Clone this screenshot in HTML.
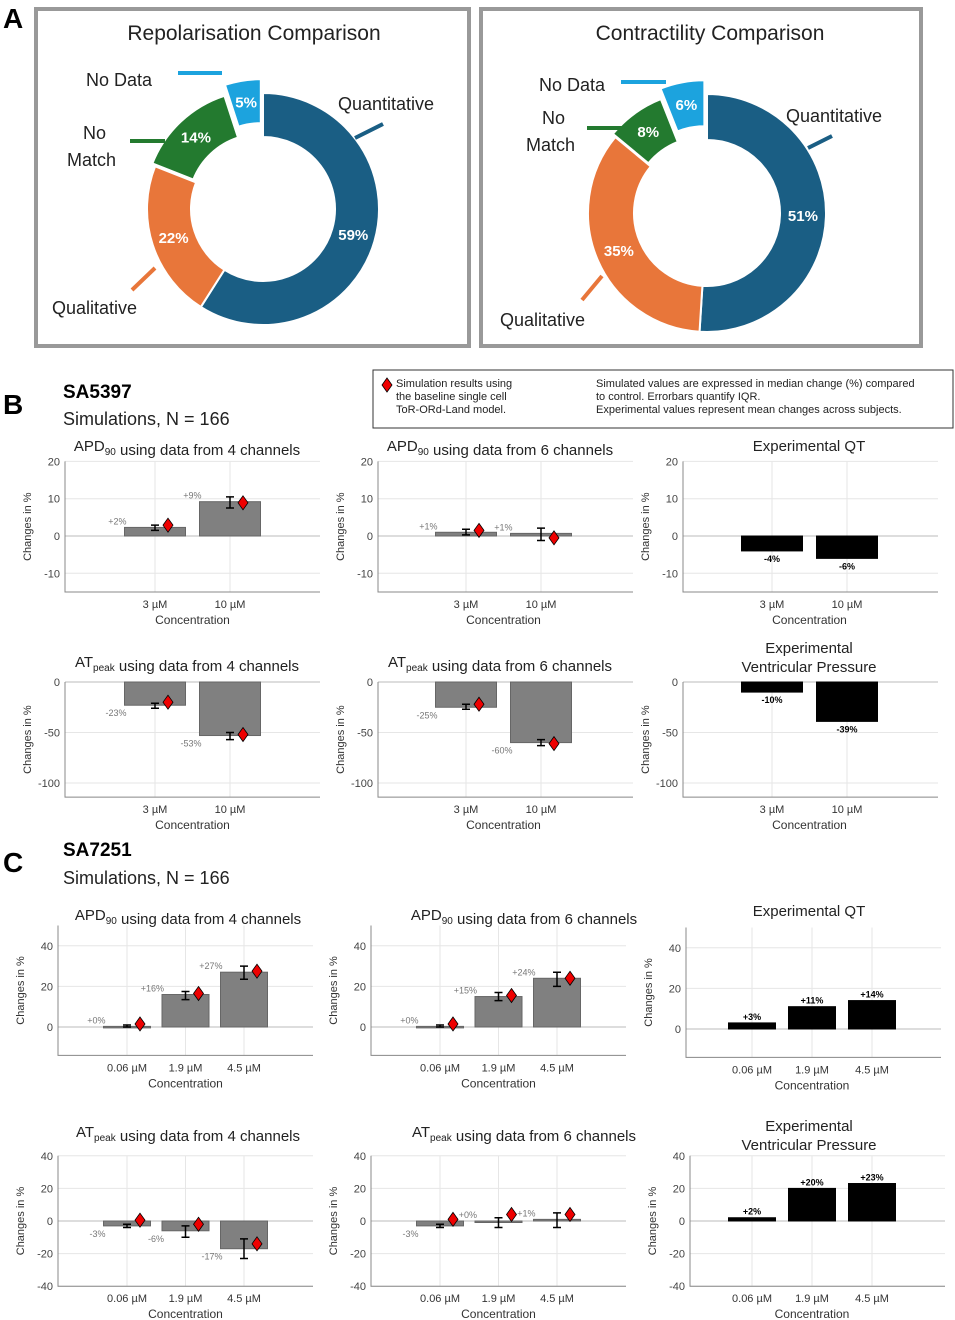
<!DOCTYPE html>
<html><head><meta charset="utf-8"><style>
body{margin:0;background:#fff}
svg{display:block;font-family:"Liberation Sans",Arial,sans-serif}
</style></head><body>
<svg id="fig" width="955" height="1320" viewBox="0 0 955 1320">
<text x="3" y="28" font-size="28" font-weight="bold">A</text>
<text x="3" y="414" font-size="28" font-weight="bold">B</text>
<text x="3" y="872" font-size="28" font-weight="bold">C</text>
<rect x="36" y="9" width="433" height="337" fill="none" stroke="#999" stroke-width="4"/>
<rect x="481" y="9" width="440" height="337" fill="none" stroke="#999" stroke-width="4"/>
<text x="254" y="40" font-size="21" text-anchor="middle" fill="#222">Repolarisation Comparison</text>
<text x="710" y="40" font-size="21" text-anchor="middle" fill="#222">Contractility Comparison</text>
<g id="donuts"></g>
<text x="63" y="398" font-size="19" font-weight="bold">SA5397</text>
<text x="63" y="425" font-size="18" fill="#222">Simulations, N = 166</text>
<text x="63" y="856" font-size="19" font-weight="bold">SA7251</text>
<text x="63" y="884" font-size="18" fill="#222">Simulations, N = 166</text>
<g>
<rect x="373" y="370" width="580" height="58" fill="#fff" stroke="#333" stroke-width="1"/>
<path d="M387 378 L392 385 L387 392 L382 385 Z" fill="#e00" stroke="#000" stroke-width="0.8"/>
<text font-size="11" fill="#222"><tspan x="396" y="387">Simulation results using</tspan><tspan x="396" y="400">the baseline single cell</tspan><tspan x="396" y="413">ToR-ORd-Land model.</tspan></text>
<text font-size="11" fill="#222"><tspan x="596" y="387">Simulated values are expressed in median change (%) compared</tspan><tspan x="596" y="400">to control. Errorbars quantify IQR.</tspan><tspan x="596" y="413">Experimental values represent mean changes across subjects.</tspan></text>
</g>
<g id="charts"></g>
</svg>
<script>
const NS="http://www.w3.org/2000/svg";
const fig=document.getElementById('fig');
function mk(tag,attrs,parent,txt){const e=document.createElementNS(NS,tag);for(const k in attrs)e.setAttribute(k,attrs[k]);if(txt!==undefined)e.textContent=txt;parent.appendChild(e);return e;}

// ---- Donut data ----
const repolLabels=["Quantitative","Qualitative","No Match","No Data"];
const repolValues=[59,22,14,5];
const contrLabels=["Quantitative","Qualitative","No Match","No Data"];
const contrValues=[51,35,8,6];
const donutColors=["#1a5e84","#e8763a","#237a2f","#1ca3de"];

function donut(cx,cy,r,ri,vals,labels,name,extra){
  const g=mk('g',{},document.getElementById('donuts'));
  
  
  let a0=0;const tot=vals.reduce((a,b)=>a+b,0);
  vals.forEach((v,i)=>{
    const a1=a0+v/tot*2*Math.PI;
    const mid=(a0+a1)/2;
    const off=i===3?14:(i===2?4:0);
    const ox=off*Math.sin(mid),oy=-off*Math.cos(mid);
    const p=(a,rr)=>[cx+ox+rr*Math.sin(a),cy+oy-rr*Math.cos(a)];
    const [x1,y1]=p(a0,r),[x2,y2]=p(a1,r),[x3,y3]=p(a1,ri),[x4,y4]=p(a0,ri);
    const lg=(a1-a0)>Math.PI?1:0;
    const s=mk('path',{d:`M${x1},${y1} A${r},${r} 0 ${lg} 1 ${x2},${y2} L${x3},${y3} A${ri},${ri} 0 ${lg} 0 ${x4},${y4} Z`,fill:donutColors[i],stroke:'#fff','stroke-width':2},g);
    
    
    const [tx,ty]=p(mid,(r+ri)/2);
    const t=mk('text',{x:tx,y:ty+5,'font-size':15,'font-weight':'bold',fill:'#fff','text-anchor':'middle'},g,v+'%');
    
    
    a0=a1;
  });
  extra(g);
}
donut(263,209,116,72,repolValues,repolLabels,'repolarisation-donut',g=>{
  mk('path',{d:'M355,138 L383,124',stroke:'#1a5e84','stroke-width':4},g);
  mk('path',{d:'M155,268 L132,290',stroke:'#e8763a','stroke-width':4},g);
  mk('path',{d:'M130,141 L165,141',stroke:'#237a2f','stroke-width':4},g);
  mk('path',{d:'M178,73 L222,73',stroke:'#1ca3de','stroke-width':4},g);
  [['Quantitative',338,110],['No Data',86,86],['No',83,139],['Match',67,166],['Qualitative',52,314]].forEach(d=>{const t=mk('text',{x:d[1],y:d[2],'font-size':18,fill:'#222'},g,d[0]);});
});
donut(707,213,119,73,contrValues,contrLabels,'contractility-donut',g=>{
  mk('path',{d:'M808,148 L832,136',stroke:'#1a5e84','stroke-width':4},g);
  mk('path',{d:'M602,276 L582,300',stroke:'#e8763a','stroke-width':4},g);
  mk('path',{d:'M587,128 L625,128',stroke:'#237a2f','stroke-width':4},g);
  mk('path',{d:'M621,82 L666,82',stroke:'#1ca3de','stroke-width':4},g);
  [['Quantitative',786,122],['No Data',539,91],['No',542,124],['Match',526,151],['Qualitative',500,326]].forEach(d=>{const t=mk('text',{x:d[1],y:d[2],'font-size':18,fill:'#222'},g,d[0]);});
});

// ---- Bar chart data ----
const catsB=["3 µM","10 µM"];
const catsC=["0.06 µM","1.9 µM","4.5 µM"];
const b1c1Vals=[2.3,9.2], b1c1Lo=[1.5,7.5], b1c1Hi=[2.9,10.5], b1c1Sim=[2.9,8.9], b1c1Lab=["+2%","+9%"];
const b1c2Vals=[1.0,0.7], b1c2Lo=[0.3,-1.2], b1c2Hi=[1.8,2.1], b1c2Sim=[1.5,-0.5], b1c2Lab=["+1%","+1%"];
const b1c3Vals=[-4,-6], b1c3Lab=["-4%","-6%"];
const b2c1Vals=[-23,-53], b2c1Lo=[-26,-57], b2c1Hi=[-21,-50], b2c1Sim=[-20,-52], b2c1Lab=["-23%","-53%"];
const b2c2Vals=[-25,-60], b2c2Lo=[-27,-63], b2c2Hi=[-22,-57], b2c2Sim=[-22,-61], b2c2Lab=["-25%","-60%"];
const b2c3Vals=[-10,-39], b2c3Lab=["-10%","-39%"];
const c1c1Vals=[0.3,16,27], c1c1Lo=[0,13.5,23.5], c1c1Hi=[1,17.5,30], c1c1Sim=[1.5,16.5,27.5], c1c1Lab=["+0%","+16%","+27%"];
const c1c2Vals=[0.3,15,24], c1c2Lo=[0,13,20], c1c2Hi=[1,17,27], c1c2Sim=[1.5,15.5,24], c1c2Lab=["+0%","+15%","+24%"];
const c1c3Vals=[3,11,14], c1c3Lab=["+3%","+11%","+14%"];
const c2c1Vals=[-3,-6,-17], c2c1Lo=[-4,-10,-23], c2c1Hi=[-2,-3,-11], c2c1Sim=[0.5,-2,-14], c2c1Lab=["-3%","-6%","-17%"];
const c2c2Vals=[-3,0,1], c2c2Lo=[-4,-4,-4], c2c2Hi=[-2,2,5], c2c2Sim=[1,4,4], c2c2Lab=["-3%","+0%","+1%"];
const c2c3Vals=[2,20,23], c2c3Lab=["+2%","+20%","+23%"];
const ticksB1=[-10,0,10,20], ticksB2=[-100,-50,0], ticksC=[-40,-20,0,20,40];

function chart(o){
  const g=mk('g',{},document.getElementById('charts'));
  
  
  const y=v=>o.y0-(v-o.v0)*o.k;
  const top=y(o.ymax), bot=y(o.ymin);
  const xc=i=>o.left+o.off+i*o.step;
  // grid
  o.ticks.forEach(t=>{mk('line',{x1:o.left,x2:o.left+o.w,y1:y(t),y2:y(t),stroke:'#e6e6e6'},g);});
  o.cats.forEach((c,i)=>{mk('line',{x1:xc(i),x2:xc(i),y1:top,y2:bot,stroke:'#e6e6e6'},g);});
  mk('line',{x1:o.left,x2:o.left+o.w,y1:y(0),y2:y(0),stroke:'#bbb'},g);
  mk('path',{d:`M${o.left},${top} V${bot} H${o.left+o.w}`,fill:'none',stroke:'#888'},g);
  o.ticks.forEach(t=>{const e=mk('text',{x:o.left-5,y:y(t)+4,'font-size':11,fill:'#444','text-anchor':'end'},g,t);});
  o.cats.forEach((c,i)=>{const e=mk('text',{x:xc(i),y:bot+16,'font-size':11,fill:'#333','text-anchor':'middle'},g,c);});
  const xt=mk('text',{x:o.left+o.off+(o.cats.length-1)*o.step/2,y:bot+32,'font-size':12,fill:'#333','text-anchor':'middle'},g,'Concentration');
  
  const cy=(top+bot)/2;
  const yt=mk('text',{x:o.left-34,y:cy,'font-size':11,fill:'#333','text-anchor':'middle',transform:`rotate(-90 ${o.left-34} ${cy})`},g,'Changes in %');
  
  const ti=mk('text',{x:o.left+o.tx,y:o.ty,'font-size':15,fill:'#222','text-anchor':'middle'},g);
  
  o.title.forEach((p,j)=>{if(p.br){mk('tspan',{x:o.left+o.tx,dy:19},ti,p.t);}else if(p.sub){mk('tspan',{'font-size':10,dy:4},ti,p.t);mk('tspan',{dy:-4},ti,'');}else mk('tspan',{},ti,p.t);});
  const bw=o.bw, exp=!o.sim;
  o.vals.forEach((v,i)=>{
    const x=xc(i)-bw/2;
    const r=mk('rect',{x:x,y:Math.min(y(v),y(0)),width:bw,height:Math.max(1.5,Math.abs(y(v)-y(0))),fill:exp?'#000':'#808080',stroke:exp?'#000':'#666'},g);
    
    if(exp){
      const ly=v>=0?y(v)-3:y(v)+11;
      const l=mk('text',{x:xc(i),y:ly,'font-size':9,'font-weight':'bold',fill:'#000','text-anchor':'middle'},g,o.lab[i]);
      
    }else{
      const ly=v>=0?y(v)-3:y(v)+11;
      const l=mk('text',{x:x+2,y:ly,'font-size':9,fill:'#777','text-anchor':'end'},g,o.lab[i]);
      
      const ex=xc(i);
      const eb=mk('path',{d:`M${ex},${y(o.lo[i])} V${y(o.hi[i])} M${ex-4},${y(o.lo[i])} H${ex+4} M${ex-4},${y(o.hi[i])} H${ex+4}`,stroke:'#000','stroke-width':1.5,fill:'none'},g);
      
      const sx=ex+13, sy=y(o.sim[i]);
      const d=mk('path',{d:`M${sx},${sy-7} L${sx+5},${sy} L${sx},${sy+7} L${sx-5},${sy} Z`,fill:'#e00',stroke:'#000','stroke-width':0.8},g);
      
    }
  });
}
const T4=[{t:'APD'},{t:'90',sub:1},{t:' using data from 4 channels'}];
const T6=[{t:'APD'},{t:'90',sub:1},{t:' using data from 6 channels'}];
const A4=[{t:'AT'},{t:'peak',sub:1},{t:' using data from 4 channels'}];
const A6=[{t:'AT'},{t:'peak',sub:1},{t:' using data from 6 channels'}];
const QT=[{t:'Experimental QT'}];
const VP=[{t:'Experimental'},{t:'Ventricular Pressure',br:1}];
const B1={y0:536,v0:0,k:3.73,ymin:-15,ymax:20,ticks:ticksB1,cats:catsB,off:90,step:75,bw:61,w:255,tx:122};
const B2={y0:682,v0:0,k:1.01,ymin:-114,ymax:0,ticks:ticksB2,cats:catsB,off:90,step:75,bw:61,w:255,tx:122};
const C1={y0:1027,v0:0,k:2.03,ymin:-14,ymax:50,ticks:ticksC.filter(t=>t>=0),cats:catsC,off:69,step:58.5,bw:47,w:255,tx:122};
const C2={y0:1221,v0:0,k:1.63,ymin:-40,ymax:40,ticks:ticksC,cats:catsC,off:69,step:58.5,bw:47,w:255,tx:122};
chart(Object.assign({},B1,{name:'b-apd90-4ch',left:65,ty:451,title:T4,vals:b1c1Vals,lo:b1c1Lo,hi:b1c1Hi,sim:b1c1Sim,lab:b1c1Lab}));
chart(Object.assign({},B1,{name:'b-apd90-6ch',left:378,off:88,ty:451,title:T6,vals:b1c2Vals,lo:b1c2Lo,hi:b1c2Hi,sim:b1c2Sim,lab:b1c2Lab}));
chart(Object.assign({},B1,{name:'b-exp-qt',left:683,off:89,tx:126,ty:451,title:QT,vals:b1c3Vals,lab:b1c3Lab}));
chart(Object.assign({},B2,{name:'b-atpeak-4ch',left:65,ty:667,title:A4,vals:b2c1Vals,lo:b2c1Lo,hi:b2c1Hi,sim:b2c1Sim,lab:b2c1Lab}));
chart(Object.assign({},B2,{name:'b-atpeak-6ch',left:378,off:88,ty:667,title:A6,vals:b2c2Vals,lo:b2c2Lo,hi:b2c2Hi,sim:b2c2Sim,lab:b2c2Lab}));
chart(Object.assign({},B2,{name:'b-exp-pressure',left:683,off:89,tx:126,ty:653,title:VP,vals:b2c3Vals,lab:b2c3Lab}));
chart(Object.assign({},C1,{name:'c-apd90-4ch',left:58,ty:920,tx:130,title:T4,vals:c1c1Vals,lo:c1c1Lo,hi:c1c1Hi,sim:c1c1Sim,lab:c1c1Lab}));
chart(Object.assign({},C1,{name:'c-apd90-6ch',left:371,ty:920,tx:153,title:T6,vals:c1c2Vals,lo:c1c2Lo,hi:c1c2Hi,sim:c1c2Sim,lab:c1c2Lab}));
chart(Object.assign({},C1,{name:'c-exp-qt',left:686,y0:1029,off:66,step:60,ty:916,tx:123,title:QT,vals:c1c3Vals,lab:c1c3Lab}));
chart(Object.assign({},C2,{name:'c-atpeak-4ch',left:58,ty:1137,tx:130,title:A4,vals:c2c1Vals,lo:c2c1Lo,hi:c2c1Hi,sim:c2c1Sim,lab:c2c1Lab}));
chart(Object.assign({},C2,{name:'c-atpeak-6ch',left:371,ty:1137,tx:153,title:A6,vals:c2c2Vals,lo:c2c2Lo,hi:c2c2Hi,sim:c2c2Sim,lab:c2c2Lab}));
chart(Object.assign({},C2,{name:'c-exp-pressure',left:690,off:62,step:60,ty:1131,tx:119,title:VP,vals:c2c3Vals,lab:c2c3Lab}));
</script>
</body></html>
